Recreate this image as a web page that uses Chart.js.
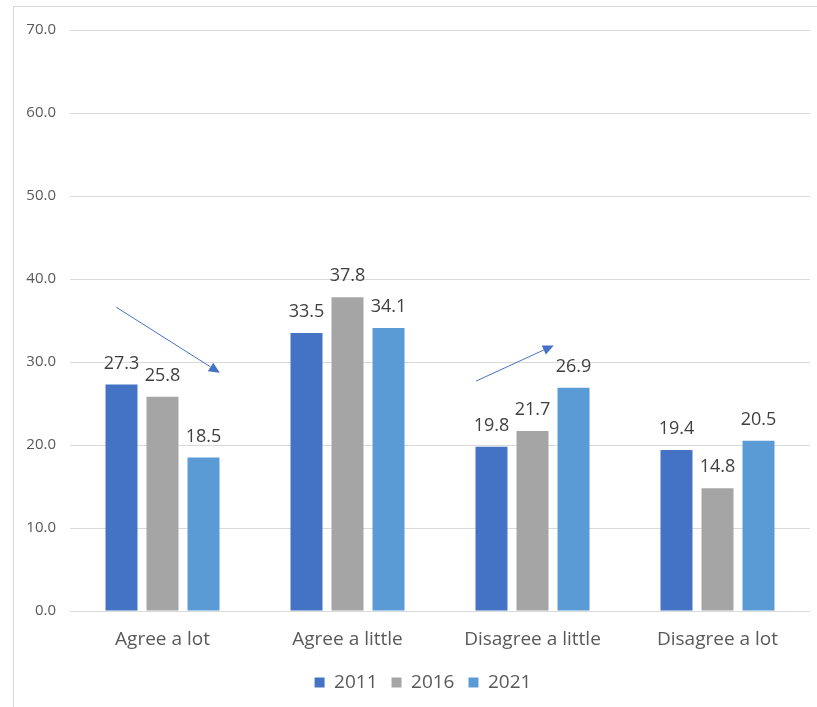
<!DOCTYPE html>
<html>
<head>
<meta charset="utf-8">
<script src="https://cdn.jsdelivr.net/npm/chart.js@4"></script>
<style>
    html, body { margin: 0; padding: 0; background: #fff; }
    .frame {
        position: absolute;
        left: 13px;
        top: 6px;
        width: 820px;
        height: 720px;
        border: 1px solid #d9d9d9;
    }
    .frame canvas { position: absolute; left: 0; top: 0; }
</style>
</head>
<body>
<div class="frame">
    <canvas id="chart-opinion" width="803" height="700"></canvas>
</div>
<script>
const categories = ["Agree a lot", "Agree a little", "Disagree a little", "Disagree a lot"];
const years = ["2011", "2016", "2021"];
const values2011 = [27.3, 33.5, 19.8, 19.4];
const values2016 = [25.8, 37.8, 21.7, 14.8];
const values2021 = [18.5, 34.1, 26.9, 20.5];
const yTicks = [0, 10, 20, 30, 40, 50, 60, 70];
const colors = ["#4472C4", "#A5A5A5", "#5B9BD5"];

// trend arrows in scale units: [fromIndex, fromValue, toIndex, toValue]
const trendArrows = [
    [-0.25, 36.6, 0.31, 28.7],
    [1.695, 27.7, 2.115, 32.0],
];

const fontFamily = "'Open Sans', 'Noto Sans', sans-serif";

const valueLabelPlugin = {
    id: "valueLabels",
    afterDatasetsDraw(chart) {
        const ctx = chart.ctx;
        ctx.save();
        ctx.fillStyle = "#404040";
        ctx.font = `18px ${fontFamily}`;
        ctx.textAlign = "center";
        ctx.textBaseline = "middle";
        chart.data.datasets.forEach((dataset, i) => {
            const meta = chart.getDatasetMeta(i);
            meta.data.forEach((bar, j) => {
                ctx.fillText(dataset.data[j].toFixed(1), bar.x, bar.y - 21);
            });
        });
        ctx.restore();
    },
};

const arrowPlugin = {
    id: "trendArrows",
    afterDatasetsDraw(chart) {
        const ctx = chart.ctx;
        const xs = chart.scales.x;
        const ys = chart.scales.y;
        ctx.save();
        ctx.strokeStyle = "#4472C4";
        ctx.fillStyle = "#4472C4";
        ctx.lineWidth = 1;
        trendArrows.forEach(([i0, v0, i1, v1]) => {
            const x0 = xs.getPixelForValue(i0);
            const y0 = ys.getPixelForValue(v0);
            const x1 = xs.getPixelForValue(i1);
            const y1 = ys.getPixelForValue(v1);
            const angle = Math.atan2(y1 - y0, x1 - x0);
            const headLen = 11;
            const headW = 5;
            const bx = x1 - headLen * Math.cos(angle);
            const by = y1 - headLen * Math.sin(angle);
            ctx.beginPath();
            ctx.moveTo(x0, y0);
            ctx.lineTo(bx, by);
            ctx.stroke();
            ctx.beginPath();
            ctx.moveTo(x1, y1);
            ctx.lineTo(bx + headW * Math.sin(angle), by - headW * Math.cos(angle));
            ctx.lineTo(bx - headW * Math.sin(angle), by + headW * Math.cos(angle));
            ctx.closePath();
            ctx.fill();
        });
        ctx.restore();
    },
};

// nudge the legend block a little to the right of the canvas centre
const legendShiftPlugin = {
    id: "legendShift",
    afterLayout(chart) {
        if (chart.legend) chart.legend.left += 22;
    },
};

new Chart(document.getElementById("chart-opinion"), {
    type: "bar",
    data: {
        labels: categories,
        datasets: [values2011, values2016, values2021].map((data, i) => ({
            label: years[i],
            data: data,
            backgroundColor: colors[i],
            borderWidth: 0,
            categoryPercentage: 0.665,
            barPercentage: 0.78,
        })),
    },
    options: {
        responsive: false,
        animation: false,
        devicePixelRatio: 1,
        layout: { padding: { top: 12, right: 7, bottom: 5, left: 0 } },
        plugins: {
            tooltip: { enabled: false },
            legend: {
                position: "bottom",
                labels: {
                    boxWidth: 10,
                    boxHeight: 10,
                    padding: 14,
                    color: "#595959",
                    font: { size: 19, family: fontFamily },
                },
            },
        },
        scales: {
            y: {
                min: yTicks[0],
                max: yTicks[yTicks.length - 1],
                afterFit: (scale) => {
                    scale.width = 56;
                },
                ticks: {
                    stepSize: yTicks[1] - yTicks[0],
                    color: "#595959",
                    padding: 14,
                    font: { size: 15, family: fontFamily },
                    callback: (v, i) => yTicks[i].toFixed(1),
                },
                grid: { color: "#d9d9d9", drawTicks: false },
                border: { display: false },
            },
            x: {
                afterFit: (scale) => {
                    scale.height = 48;
                },
                ticks: {
                    color: "#595959",
                    padding: 17,
                    font: { size: 19, family: fontFamily },
                },
                grid: { display: false, drawTicks: false },
                border: { display: false },
            },
        },
    },
    plugins: [valueLabelPlugin, arrowPlugin, legendShiftPlugin],
});
</script>
</body>
</html>
